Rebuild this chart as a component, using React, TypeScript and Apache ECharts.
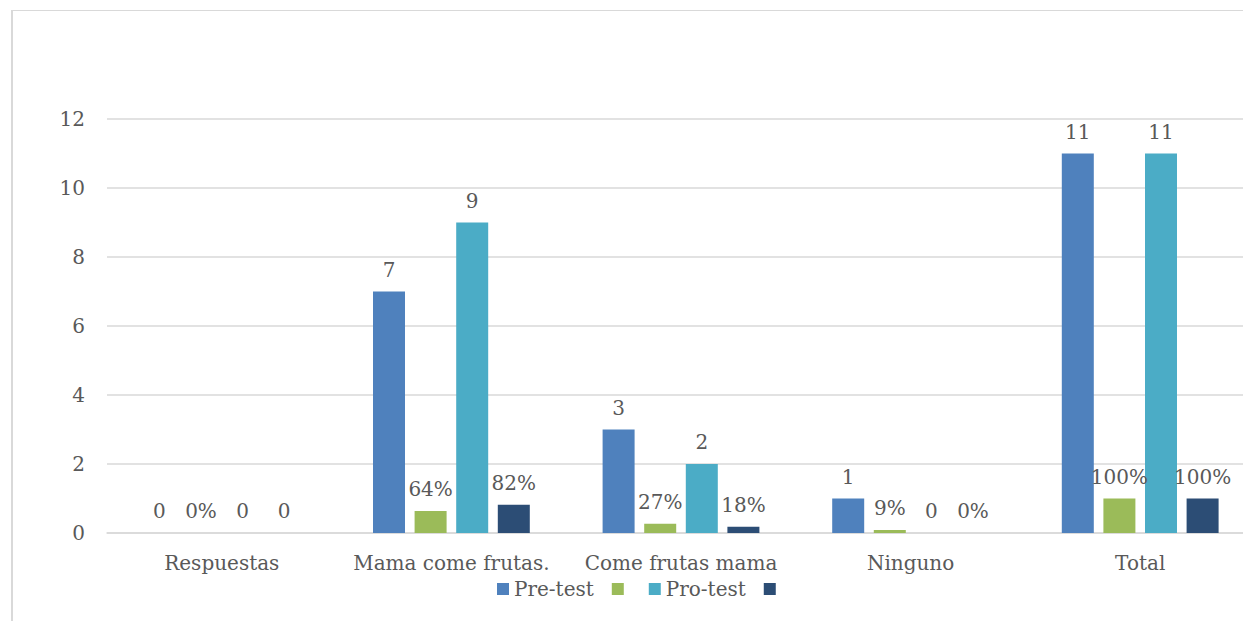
import React, { useEffect, useRef } from "react";
import * as echarts from "echarts";

const categories = ["Respuestas", "Mama come frutas.", "Come frutas mama", "Ninguno", "Total"];
const preTest = [0, 7, 3, 1, 11];
const preLabels = ["0", "7", "3", "1", "11"];
const preShare = [0, 0.64, 0.27, 0.09, 1];
const preShareLabels = ["0%", "64%", "27%", "9%", "100%"];
const proTest = [0, 9, 2, 0, 11];
const proLabels = ["0", "9", "2", "0", "11"];
const proShare = [0, 0.82, 0.18, 0, 1];
const proShareLabels = ["0", "82%", "18%", "0%", "100%"];
const yTicks = [0, 2, 4, 6, 8, 10, 12];

const FONT = "DejaVu Serif";
const TEXT = "#595959";
const FS = 20;

export default function App() {
  const ref = useRef<HTMLDivElement>(null);
  useEffect(() => {
    if (!ref.current) return;
    const chart = echarts.init(ref.current, undefined, { renderer: "svg" });
    const mk = (name: string, data: number[], labels: string[], color: string) => ({
      name,
      type: "bar",
      data,
      barWidth: 32,
      barGap: "30%",
      itemStyle: { color },
      label: {
        show: true,
        position: "top",
        distance: 12,
        color: TEXT,
        fontFamily: FONT,
        fontSize: FS,
        formatter: (p: any) => labels[p.dataIndex],
      },
    });
    chart.setOption({
      animation: false,
      backgroundColor: "#ffffff",
      textStyle: { fontFamily: FONT },
      graphic: [
        { type: "line", shape: { x1: 12, y1: 10, x2: 12, y2: 640 }, style: { stroke: "#d9d9d9", lineWidth: 2 } },
        { type: "line", shape: { x1: 11, y1: 10.5, x2: 1300, y2: 10.5 }, style: { stroke: "#d9d9d9", lineWidth: 1 } },
      ],
      grid: { left: 107, top: 119, width: 1148, height: 414, containLabel: false },
      legend: {
        left: 492,
        top: 574,
        icon: "rect",
        itemWidth: 12,
        itemHeight: 12,
        itemGap: 18,
        textStyle: { color: TEXT, fontFamily: FONT, fontSize: FS },
        formatter: (n: string) => (n.trim() === "" ? "\u200A" : n),
        data: ["Pre-test", " ", "Pro-test", "  "],
      },
      xAxis: {
        type: "category",
        data: categories,
        axisLine: { lineStyle: { color: "#d9d9d9", width: 1.5 } },
        axisTick: { show: false },
        axisLabel: { color: TEXT, fontFamily: FONT, fontSize: FS, margin: 20, interval: 0 },
      },
      yAxis: {
        type: "value",
        min: yTicks[0],
        max: yTicks[yTicks.length - 1],
        interval: 2,
        axisLine: { show: false },
        axisTick: { show: false },
        splitLine: { lineStyle: { color: "#d9d9d9", width: 1.5 } },
        axisLabel: { color: TEXT, fontFamily: FONT, fontSize: FS, margin: 22 },
      },
      series: [
        mk("Pre-test", preTest, preLabels, "#4F81BD"),
        mk(" ", preShare, preShareLabels, "#9BBB59"),
        mk("Pro-test", proTest, proLabels, "#4BACC6"),
        mk("  ", proShare, proShareLabels, "#2C4D75"),
      ],
    });
    return () => chart.dispose();
  }, []);
  return (
    <div style={{ position: "fixed", left: 0, top: 0, width: 1243, height: 621, overflow: "hidden", background: "#fff" }}>
      <div ref={ref} style={{ width: 1260, height: 621 }} />
    </div>
  );
}
